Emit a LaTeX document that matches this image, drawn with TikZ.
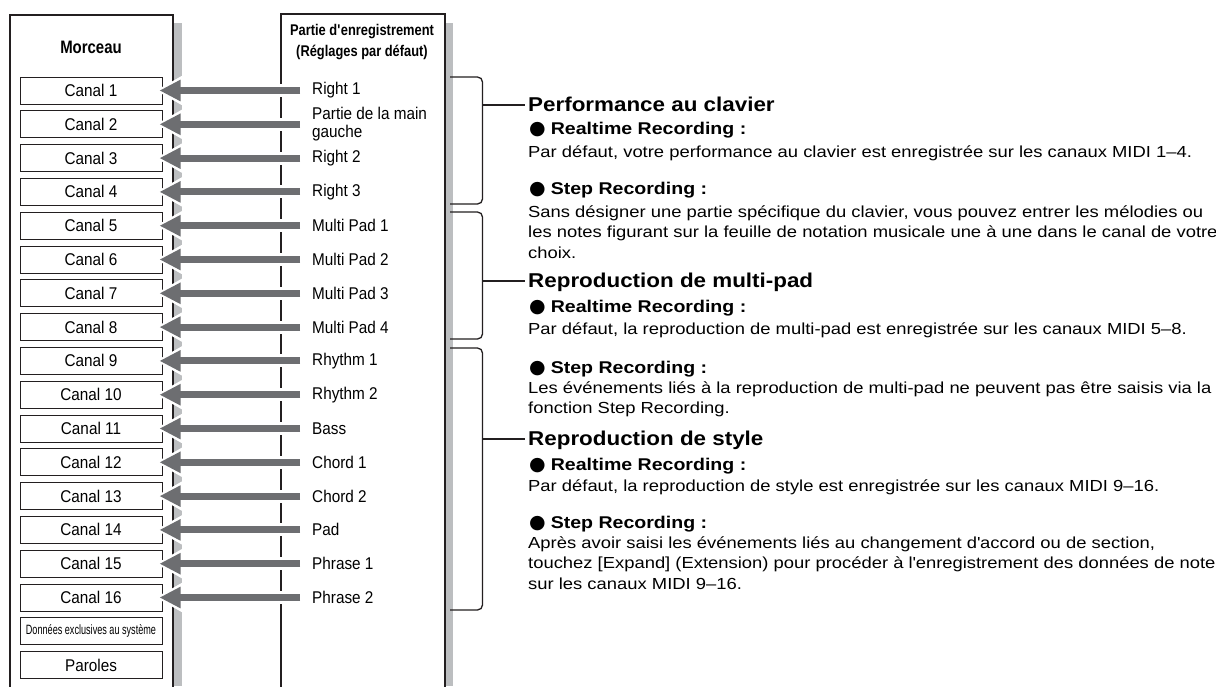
\documentclass[tikz,border=0pt]{standalone}
\usepackage{fontspec}
\setmainfont{Liberation Sans}
\newfontfamily\condfont[FakeStretch=0.83]{Liberation Sans}
\newfontfamily\labfont[FakeStretch=0.9]{Liberation Sans}
\newfontfamily\narrowfont[FakeStretch=0.675]{Liberation Sans}
\newfontfamily\widefont[FakeStretch=1.15]{Liberation Sans}
\newfontfamily\headfont[FakeStretch=1.12]{Liberation Sans}
\newfontfamily\symfont{DejaVu Sans}
\usetikzlibrary{arrows.meta,calc}
\definecolor{arrgray}{HTML}{6D6E71}
\definecolor{shadowgray}{HTML}{BCBEC0}
\definecolor{ink}{HTML}{231F20}
\newcommand{\bul}{{\fontsize{19}{20}\symfont ●}\hspace{5pt}}
\begin{document}
\begin{tikzpicture}[x=1pt,y=-1pt,
  chan/.style={draw=ink, line width=1pt, fill=white, minimum width=142pt, minimum height=27pt, inner sep=0pt, font=\labfont\fontsize{17}{18}\selectfont},
  part/.style={anchor=west, inner sep=0pt, align=left, font=\labfont\fontsize{17}{18}\selectfont},
  flow/.style={draw=arrgray, line width=7pt, -{Triangle[length=21pt,width=20pt]},
    preaction={draw=white, line width=13pt, -{Triangle[length=29pt,width=30pt]}, shorten >=-4pt}},
  bigbox/.style={draw=ink, line width=2pt},
  shade/.style={fill=shadowgray},
  brk/.style={draw=ink, line width=1.3pt, rounded corners=5pt},
  headtxt/.style={anchor=base west, inner sep=0pt, font=\headfont\bfseries\fontsize{20}{24}\selectfont},
  bultxt/.style={anchor=base west, inner sep=0pt, font=\widefont\bfseries\fontsize{17}{20}\selectfont},
  bodytxt/.style={anchor=base west, inner sep=0pt, font=\widefont\fontsize{16}{20}\selectfont},
  coltitle/.style={inner sep=0pt, align=center, font=\condfont\bfseries\fontsize{15.5}{21}\selectfont}
]
\useasboundingbox (0,0) rectangle (1216,686);
\fill[white] (0,0) rectangle (1216,686);

% shadows
\fill[shade] (174,23) rectangle (182,686);
\fill[shade] (446,23) rectangle (453,686);
% big boxes (open at the bottom)
\draw[bigbox] (10,687) -- (10,15) -- (173,15) -- (173,687);
\draw[bigbox] (281,687) -- (281,14) -- (445,14) -- (445,687);

% column titles
\node[coltitle, font=\condfont\bfseries\fontsize{18}{20}\selectfont] (morceau) at (91,47) {Morceau};
\node[coltitle] (partie) at (362,42.5) {Partie d\textquotesingle enregistrement\\(Réglages par défaut)};

% channel boxes
\foreach \i in {1,...,16} {
  \node[chan] (c\i) at (91,{90.5+(\i-1)*33.8}) {Canal \i};
}
\node[chan, font=\narrowfont\fontsize{13.5}{15}\selectfont] (sx) at (91,{90.5+16*33.8}) {Données exclusives au système};
\node[chan] (par) at (91,{90.5+17*33.8}) {Paroles};

% recording parts
\foreach \i/\t in {1/Right 1, 2/{Partie de la main\\gauche}, 3/Right 2, 4/Right 3,
  5/Multi Pad 1, 6/Multi Pad 2, 7/Multi Pad 3, 8/Multi Pad 4,
  9/Rhythm 1, 10/Rhythm 2, 11/Bass, 12/Chord 1, 13/Chord 2, 14/Pad, 15/Phrase 1, 16/Phrase 2} {
  \node[part] (l\i) at (312,{90.5+(\i-1)*33.8}) {\t};
}

% arrows
\foreach \i in {1,...,16} {
  \draw[flow] ([xshift=-12pt]l\i.west) -- ([xshift=-3pt]c\i.east);
}

% brackets
\draw[brk] (450,77) -| (482.5,204) -- (450,204);
\draw[brk] (450,212) -| (482.5,339) -- (450,339);
\draw[brk] (450,348) -| (482.5,610) -- (450,610);

% text column
\node[headtxt] (h1) at (528,111) {Performance au clavier};
\node[bultxt] (r1) at (529,134) {\bul Realtime Recording :};
\node[bodytxt] (t1) at (528,157) {Par défaut, votre performance au clavier est enregistrée sur les canaux MIDI 1–4.};
\node[bultxt] (s1) at (529,194) {\bul Step Recording :};
\node[bodytxt] (u1a) at (528,217) {Sans désigner une partie spécifique du clavier, vous pouvez entrer les mélodies ou};
\node[bodytxt] (u1b) at (528,237.5) {les notes figurant sur la feuille de notation musicale une à une dans le canal de votre};
\node[bodytxt] (u1c) at (528,258) {choix.};

\node[headtxt] (h2) at (528,287) {Reproduction de multi-pad};
\node[bultxt] (r2) at (529,312) {\bul Realtime Recording :};
\node[bodytxt] (t2) at (528,334) {Par défaut, la reproduction de multi-pad est enregistrée sur les canaux MIDI 5–8.};
\node[bultxt] (s2) at (529,373) {\bul Step Recording :};
\node[bodytxt] (u2a) at (528,393) {Les événements liés à la reproduction de multi-pad ne peuvent pas être saisis via la};
\node[bodytxt] (u2b) at (528,413.5) {fonction Step Recording.};

\node[headtxt] (h3) at (528,445) {Reproduction de style};
\node[bultxt] (r3) at (529,470) {\bul Realtime Recording :};
\node[bodytxt] (t3) at (528,491) {Par défaut, la reproduction de style est enregistrée sur les canaux MIDI 9–16.};
\node[bultxt] (s3) at (529,528) {\bul Step Recording :};
\node[bodytxt] (u3a) at (528,548) {Après avoir saisi les événements liés au changement d\textquotesingle accord ou de section,};
\node[bodytxt] (u3b) at (528,568.5) {touchez [Expand] (Extension) pour procéder à l\textquotesingle enregistrement des données de note};
\node[bodytxt] (u3c) at (528,589) {sur les canaux MIDI 9–16.};

% connectors from brackets to headings
\coordinate (k1) at (482.5,105);
\coordinate (k2) at (482.5,281);
\coordinate (k3) at (482.5,439);
\draw[brk] (k1) -- ([xshift=-3pt]k1 -| h1.west);
\draw[brk] (k2) -- ([xshift=-3pt]k2 -| h2.west);
\draw[brk] (k3) -- ([xshift=-3pt]k3 -| h3.west);
\end{tikzpicture}
\end{document}
